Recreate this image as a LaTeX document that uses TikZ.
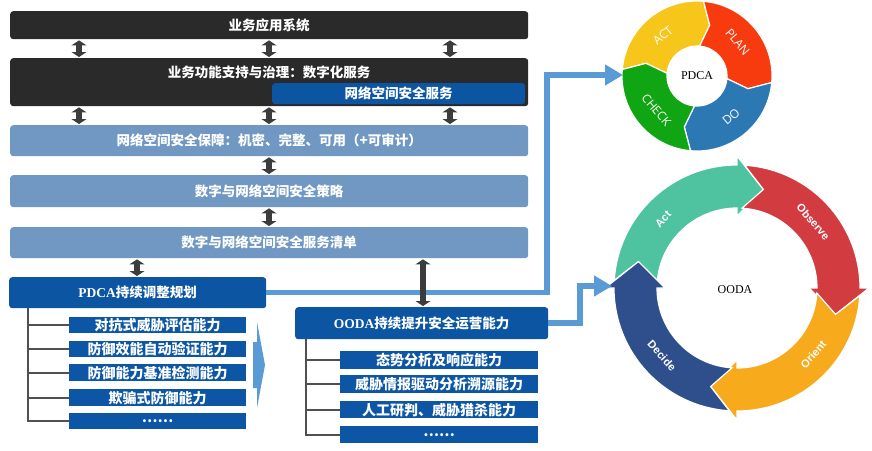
\documentclass[tikz,border=0pt]{standalone}
\usepackage{fontspec}
\newfontfamily\cjk{Noto Sans CJK SC}
\newfontfamily\ringfont{Open Sans}
\newfontfamily\oodafont{Liberation Sans}
\newfontfamily\serifb{Liberation Serif}
\usetikzlibrary{arrows.meta}
\definecolor{boxblack}{HTML}{2A2A2A}
\definecolor{darkblue}{HTML}{0B55A2}
\definecolor{lightbox}{HTML}{7098C2}
\definecolor{subblue}{HTML}{0C56A5}
\definecolor{flowblue}{HTML}{5B9BD5}
\definecolor{arrowgrey}{HTML}{3C3C3C}
\definecolor{treegrey}{HTML}{505050}
\definecolor{pAct}{HTML}{F6C61B}
\definecolor{pPlan}{HTML}{F83A0F}
\definecolor{pDo}{HTML}{2C78B3}
\definecolor{pCheck}{HTML}{10A512}
\definecolor{oAct}{HTML}{4FC2A0}
\definecolor{oObs}{HTML}{D23B40}
\definecolor{oOri}{HTML}{F6AA1C}
\definecolor{oDec}{HTML}{2F4F8C}
\newcommand\pdcaseg[3]{%
  \fill[#1, draw=white, line width=1.2pt] (#2:75) arc[start angle=#2, end angle=#3, radius=75]
    -- ({#3-9}:52.5) -- (#3:30) arc[start angle=#3, end angle=#2, radius=30]
    -- ({#2-9}:52.5) -- cycle;}
\newcommand\oodaseg[3]{%
  \fill[#1, draw=white, line width=1.2pt] ({#2-3.6}:123) arc[start angle={#2-3.6}, end angle=#3, radius=123]
    -- (#3:132) -- ({#3-15}:102) -- (#3:72) -- (#3:80)
    arc[start angle=#3, end angle={#2-3.6}, radius=80] -- ({#2-15}:102) -- cycle;}
\begin{document}
\begin{tikzpicture}[x=1pt,y=1pt,
  box/.style={inner sep=0pt, text=white, font=\cjk\bfseries\fontsize{13.5}{15}\selectfont, anchor=north west},
  blk/.style={box, fill=boxblack, rounded corners=3pt},
  blu/.style={box, fill=darkblue, rounded corners=3pt},
  lb/.style={box, fill=lightbox, rounded corners=3pt},
  sub/.style={box, fill=subblue, font=\cjk\bfseries\fontsize{14}{15}\selectfont},
  lbl/.style={inner sep=0pt, text=white, font=\cjk\bfseries\fontsize{13.5}{15}\selectfont},
  dbl/.style={draw=arrowgrey, line width=6pt, {Triangle[length=5pt,width=15pt]}-{Triangle[length=5pt,width=15pt]}},
  flow/.style={draw=flowblue, line width=5.5pt, -{Triangle[length=18pt,width=20pt]}},
  tree/.style={draw=treegrey, line width=1.6pt},
  ctr/.style={inner sep=0pt, font=\serifb\fontsize{12}{14}\selectfont, text=black},
  plbl/.style={inner sep=0pt, text=white, font=\ringfont\fontsize{12}{14}\selectfont},
  olbl/.style={inner sep=0pt, text=white, font=\oodafont\bfseries\fontsize{11}{13}\selectfont}
]
\useasboundingbox (0,0) rectangle (872,-450);

% left stack
\node[blk, minimum width=518pt, minimum height=28pt] (app) at (10,-11) {业务应用系统};
\node[blk, minimum width=518pt, minimum height=48pt] (biz) at (10,-58) {};
\node[lbl] (bizt) at (269,-72) {业务功能支持与治理：数字化服务};
\node[blu, minimum width=253pt, minimum height=21pt] (sec) at (272,-83) {网络空间安全服务};
\node[lb, minimum width=518pt, minimum height=31pt] (cia) at (10,-125) {网络空间安全保障：机密、完整、可用（+可审计）};
\node[lb, minimum width=518pt, minimum height=32pt] (pol) at (10,-175) {数字与网络空间安全策略};
\node[lb, minimum width=518pt, minimum height=31pt] (svc) at (10,-227) {数字与网络空间安全服务清单};

% PDCA branch
\node[blu, minimum width=257pt, minimum height=31pt] (pdca) at (9,-277) {{\serifb\bfseries PDCA}持续调整规划};
\node[sub, minimum width=177pt, minimum height=16pt] (p1) at (69,-317) {对抗式威胁评估能力};
\node[sub, minimum width=177pt, minimum height=16pt] (p2) at (69,-341) {防御效能自动验证能力};
\node[sub, minimum width=177pt, minimum height=17pt] (p3) at (69,-364) {防御能力基准检测能力};
\node[sub, minimum width=177pt, minimum height=17pt] (p4) at (69,-389) {欺骗式防御能力};
\node[sub, minimum width=177pt, minimum height=16pt] (p5) at (69,-413) {……};
\coordinate (tx) at (28,0);
\foreach \s in {p1,p2,p3,p4,p5} \draw[tree] (pdca.south -| tx) |- (\s.west);
\fill[flowblue] (257,-322) -- (265,-365) -- (257,-408) -- (257,-388) -- (253,-388) -- (253,-342) -- (257,-342) -- cycle;

% OODA branch
\node[blu, minimum width=253pt, minimum height=32pt] (ooda) at (295,-307) {{\serifb\bfseries OODA}持续提升安全运营能力};
\node[sub, minimum width=198pt, minimum height=18pt] (o1) at (340,-351) {态势分析及响应能力};
\node[sub, minimum width=198pt, minimum height=18pt] (o2) at (340,-375) {威胁情报驱动分析溯源能力};
\node[sub, minimum width=198pt, minimum height=17pt] (o3) at (340,-401) {人工研判、威胁猎杀能力};
\node[sub, minimum width=198pt, minimum height=17pt] (o4) at (340,-426) {……};
\coordinate (ox) at (306,0);
\foreach \s in {o1,o2,o3,o4} \draw[tree] (ooda.south -| ox) |- (\s.west);

% PDCA ring
\begin{scope}[shift={(697,-76)}]
  \pdcaseg{pAct}{175}{85}
  \pdcaseg{pPlan}{85}{-5}
  \pdcaseg{pDo}{-5}{-95}
  \pdcaseg{pCheck}{-95}{-185}
  \node[plbl, rotate=40] (lact) at (130:53) {ACT};
  \node[plbl, rotate=-50] (lplan) at (40:53) {PLAN};
  \node[plbl, rotate=40] (ldo) at (-50:53) {DO};
  \node[plbl, rotate=-50] (lcheck) at (-140:53) {CHECK};
  \node[ctr] (pdcac) at (0,0) {PDCA};
\end{scope}

% OODA ring
\begin{scope}[shift={(737,-288)}]
  \oodaseg{oAct}{180}{90}
  \oodaseg{oObs}{90}{0}
  \oodaseg{oOri}{0}{-90}
  \oodaseg{oDec}{-90}{-180}
  \node[olbl, rotate=47] (oact) at (137:101) {Act};
  \node[olbl, rotate=-49] (oobs) at (41:101) {Observe};
  \node[olbl, rotate=49] (oori) at (-41:101) {Orient};
  \node[olbl, rotate=-48] (odec) at (-138:101) {Decide};
  \node[ctr] (oodac) at (-2,-2) {OODA};
\end{scope}

% blue flow connectors
\coordinate (pdcaJ) at (547,-75);
\coordinate (pdcaW) at (623,-75);
\coordinate (oodaJ) at (580,-286);
\coordinate (oodaW) at (612,-286);
\draw[flow] (pdca.east) -| (pdcaJ) -- (pdcaW);
\draw[flow] (ooda.east) -| (oodaJ) -- (oodaW);

% double arrows
\coordinate (a1) at (79,0);
\coordinate (a2) at (269,0);
\coordinate (a3) at (450,0);
\coordinate (a4) at (423,0);
\coordinate (a5) at (137,0);
\foreach \c in {a1,a2,a3} {
  \draw[dbl] ([yshift=-1pt]app.south -| \c) -- ([yshift=1pt]biz.north -| \c);
  \draw[dbl] ([yshift=-1pt]biz.south -| \c) -- ([yshift=1pt]cia.north -| \c);
}
\draw[dbl] ([yshift=-1pt]cia.south -| a2) -- ([yshift=1pt]pol.north -| a2);
\draw[dbl] ([yshift=-1pt]pol.south -| a2) -- ([yshift=1pt]svc.north -| a2);
\draw[dbl] ([yshift=-1pt]svc.south -| a5) -- ([yshift=1pt]pdca.north -| a5);
\draw[dbl] ([yshift=-1pt]svc.south -| a4) -- ([yshift=1pt]ooda.north -| a4);
\end{tikzpicture}
\end{document}
